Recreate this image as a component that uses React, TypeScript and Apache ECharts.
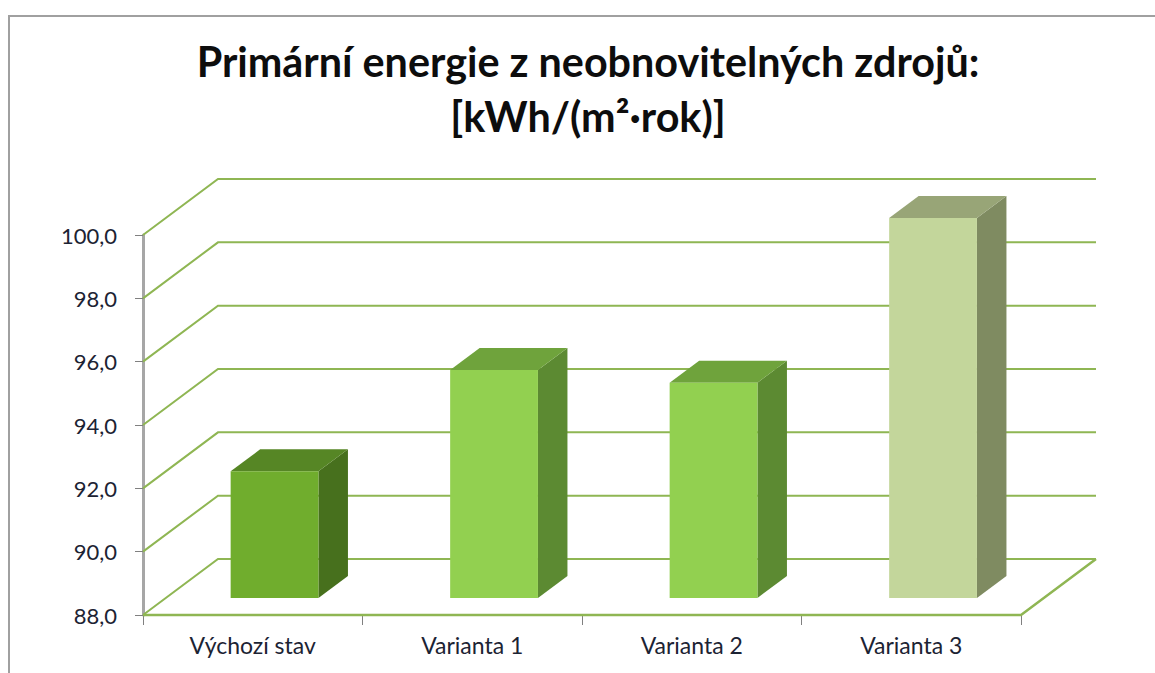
import React, { useEffect, useRef } from "react";
import * as echarts from "echarts";

const categories = ["Výchozí stav", "Varianta 1", "Varianta 2", "Varianta 3"];
const values = [92.0, 95.2, 94.8, 100.0];
const gridTicks = [88, 90, 92, 94, 96, 98, 100];
const frontColors = ["#70ad2d", "#92d050", "#92d050", "#c3d69b"];
const topColors = ["#568625", "#6fa33c", "#6fa33c", "#98a577"];
const sideColors = ["#47701d", "#5c8a32", "#5c8a32", "#7f8b61"];
const titleLines = "Primární energie z neobnovitelných zdrojů:\n[kWh/(m²·rok)]";

const WALL_DX = 75;
const WALL_DY = -56;
const BAR_OFFSET_X = 21.8;
const BAR_OFFSET_Y = -17;
const BAR_DX = 29.5;
const BAR_DY = -22;
const GREEN = "#8fb653";

export default function App() {
  const ref = useRef<HTMLDivElement>(null);
  useEffect(() => {
    const chart = echarts.init(ref.current!, undefined, { renderer: "svg" });
    chart.setOption({
      animation: false,
      backgroundColor: "#ffffff",
      title: {
        text: titleLines,
        left: 583,
        top: 28,
        textAlign: "center",
        textStyle: {
          fontFamily: "Lato",
          fontSize: 41.3,
          fontWeight: "bold",
          color: "#0d0d0d",
          lineHeight: 55,
        },
      },
      grid: { left: 143, top: 235, width: 878, height: 380, containLabel: false },
      xAxis: {
        type: "category",
        data: categories,
        z: 10,
        axisLine: { show: true, onZero: false, lineStyle: { color: "#a6a6a6", width: 2 } },
        axisTick: { show: true, length: 10, lineStyle: { color: "#808080", width: 1 } },
        axisLabel: { fontFamily: "Lato", fontSize: 23, color: "#1c2333", margin: 18 },
      },
      yAxis: {
        type: "value",
        min: 88,
        max: 100,
        interval: 2,
        z: 10,
        axisLine: { show: true, onZero: false, lineStyle: { color: "#a6a6a6", width: 3 } },
        axisTick: { show: true, length: 8, lineStyle: { color: "#808080", width: 1 } },
        splitLine: { show: false },
        axisLabel: {
          fontFamily: "Lato",
          fontSize: 22,
          color: "#1c2333",
          margin: 26,
          formatter: (v: number) => v.toFixed(1).replace(".", ","),
        },
      },
      series: [
        {
          type: "custom",
          silent: true,
          clip: false,
          z: 12,
          data: gridTicks.map((t) => [0, t]),
          renderItem: (params: any, api: any) => {
            const cs = params.coordSys;
            const y = api.coord([0, api.value(1)])[1];
            const x0 = cs.x;
            const children: any[] = [];
            const line = { stroke: GREEN, lineWidth: 2, fill: "none" };
            children.push({
              type: "polyline",
              shape: {
                points: [
                  [x0, y],
                  [x0 + WALL_DX, y + WALL_DY],
                  [x0 + cs.width + WALL_DX, y + WALL_DY],
                ],
              },
              style: line,
            });
            if (api.value(1) === gridTicks[0]) {
              children.push({
                type: "polyline",
                shape: {
                  points: [
                    [x0, y],
                    [x0 + cs.width, y],
                    [x0 + cs.width + WALL_DX, y + WALL_DY],
                  ],
                },
                style: { ...line, lineWidth: 2.5 },
              });
            }
            return { type: "group", children };
          },
        },
        {
          type: "custom",
          silent: true,
          clip: false,
          z: 13,
          data: values.map((v, i) => [i, v]),
          renderItem: (params: any, api: any) => {
            const i = params.dataIndex;
            const band = api.size([1, 0])[0];
            const w = band * 0.4;
            const top = api.coord([api.value(0), api.value(1)]);
            const base = api.coord([api.value(0), 88]);
            const x1 = top[0] - w / 2 + BAR_OFFSET_X;
            const x2 = x1 + w;
            const yt = top[1] + BAR_OFFSET_Y;
            const yb = base[1] + BAR_OFFSET_Y;
            return {
              type: "group",
              children: [
                {
                  type: "polygon",
                  shape: {
                    points: [
                      [x2, yt],
                      [x2 + BAR_DX, yt + BAR_DY],
                      [x2 + BAR_DX, yb + BAR_DY],
                      [x2, yb],
                    ],
                  },
                  style: { fill: sideColors[i] },
                },
                {
                  type: "polygon",
                  shape: {
                    points: [
                      [x1, yt],
                      [x1 + BAR_DX, yt + BAR_DY],
                      [x2 + BAR_DX, yt + BAR_DY],
                      [x2, yt],
                    ],
                  },
                  style: { fill: topColors[i] },
                },
                {
                  type: "rect",
                  shape: { x: x1, y: yt, width: w, height: yb - yt },
                  style: { fill: frontColors[i] },
                },
              ],
            };
          },
        },
      ],
      graphic: [
        {
          type: "polyline",
          z: 0,
          silent: true,
          shape: {
            points: [
              [9, 673],
              [9, 16],
              [1155, 16],
            ],
          },
          style: { stroke: "#a0a0a0", lineWidth: 2, fill: "none" },
        },
      ],
    });
    return () => chart.dispose();
  }, []);
  return (
    <div
      ref={ref}
      style={{ position: "fixed", left: 0, top: 0, width: 1155, height: 673 }}
    />
  );
}
